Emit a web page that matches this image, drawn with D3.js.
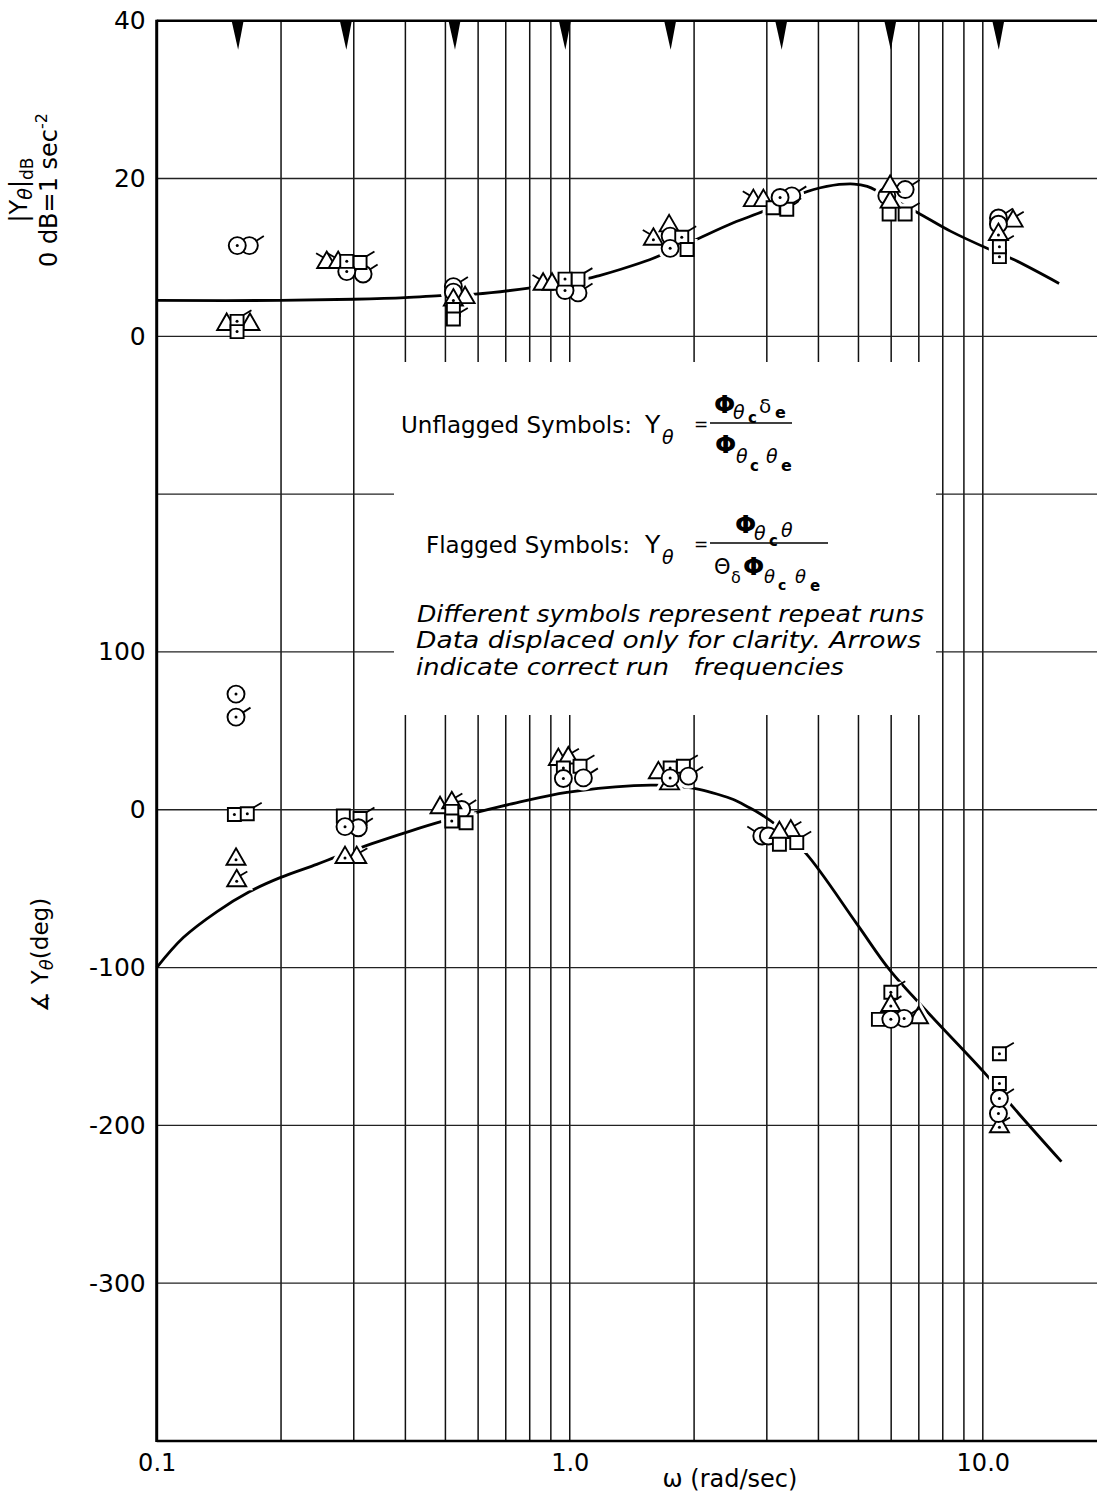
<!DOCTYPE html>
<html><head><meta charset="utf-8">
<script src="https://cdn.jsdelivr.net/npm/d3@7"></script>
<style>
html,body{margin:0;padding:0;background:#fff}
svg{display:block}
text{font-family:"DejaVu Sans",sans-serif;fill:#000}
</style>
</head><body>
<svg id="chart" width="1097" height="1493"></svg>
<script>
// ---------------- DATA ----------------
const xTicks = [0.1, 1, 10];
const xTickLabels = ["0.1", "1.0", "10.0"];
const magTicks = [40, 20, 0];
const phaseTicks = [100, 0, -100, -200, -300];
const magGrid = [40, 20, 0, -20, -40, -60, -80, -100, -120];
const freqGrid = [0.2,0.3,0.4,0.5,0.6,0.7,0.8,0.9,1,2,3,4,5,6,7,8,9,10];
const runFreqs = [0.157, 0.287, 0.526, 0.973, 1.75, 3.25, 5.97, 10.9];

const magCurveW  = [0.1, 0.199, 0.299, 0.399, 0.494, 0.590, 0.837, 1.10, 1.18, 1.33, 1.56, 1.68, 1.99, 2.49, 2.96, 3.60, 4.19, 4.88, 5.25, 5.65, 6.94, 8.37, 10.4, 11.8, 15.3];
const magCurveDb = [4.55, 4.55, 4.7, 4.9, 5.2, 5.35, 6.27, 7.3, 7.7, 8.5, 9.7, 10.4, 12.1, 14.4, 15.9, 18.0, 19.0, 19.3, 19.0, 18.2, 15.7, 13.3, 11.0, 9.8, 6.7];

const phaseCurveW   = [0.1, 0.116, 0.14, 0.168, 0.199, 0.244, 0.273, 0.332, 0.411, 0.495, 0.612, 0.742, 0.984, 1.43, 1.62, 1.90, 2.07, 2.27, 2.49, 2.70, 2.89, 3.17, 3.74, 4.96, 5.97, 7.52, 10.2, 11.8, 15.5];
const phaseCurveDeg = [-100, -81, -64.5, -51.8, -43, -34.6, -29.7, -21.5, -13.5, -7.1, -0.8, 4.4, 11, 15.3, 15.6, 14.3, 12.8, 10, 6.5, 1.8, -2.5, -10, -28, -72.5, -102, -131, -168, -188, -223];

// [plotted frequency, value, symbol (c circle / s square / t triangle), flag (0 none, 1 right, -1 left), centre dot]
const magPoints = [
  [0.1477, 1.5, 't', 1, 0], [0.1682, 1.5, 't', 0, 0], [0.1565, 1.9, 's', 1, 1], [0.1565, 0.6, 's', 0, 1],
  [0.1676, 11.5, 'c', 1, 0], [0.1567, 11.5, 'c', 0, 1],
  [0.258, 9.35, 't', -1, 0], [0.275, 9.35, 't', -1, 0], [0.316, 7.9, 'c', 1, 0], [0.3107, 9.35, 's', 1, 0],
  [0.2885, 8.2, 'c', 0, 1], [0.2885, 9.5, 's', 0, 1],
  [0.5227, 6.3, 'c', 1, 0], [0.5227, 5.6, 'c', 0, 0], [0.558, 4.9, 't', 0, 0], [0.5227, 4.6, 't', 0, 1],
  [0.5227, 3.4, 's', 0, 0], [0.5227, 2.2, 's', 1, 0],
  [0.862, 6.6, 't', -1, 0], [0.906, 6.6, 't', 0, 0], [1.047, 5.5, 'c', 1, 0], [0.974, 5.8, 'c', 0, 1],
  [1.047, 7.25, 's', 1, 0], [0.974, 7.25, 's', 0, 1],
  [1.594, 12.3, 't', -1, 1], [1.740, 14.0, 't', 0, 0], [1.750, 12.7, 'c', 0, 0], [1.867, 12.55, 's', 1, 1],
  [1.923, 11.0, 's', 0, 0], [1.750, 11.15, 'c', 0, 1],
  [2.783, 17.2, 't', -1, 0], [2.943, 17.2, 't', 0, 0], [3.448, 17.8, 'c', 1, 0], [3.107, 16.3, 's', 0, 0],
  [3.353, 16.1, 's', 1, 0], [3.230, 17.6, 'c', 0, 1],
  [5.932, 15.5, 's', 0, 0], [6.486, 15.5, 's', 1, 0], [6.486, 18.6, 'c', 1, 0], [5.856, 17.8, 'c', 0, 0],
  [5.965, 17.0, 't', 0, 0], [5.965, 19.0, 't', 0, 0],
  [10.97, 10.1, 's', 0, 1], [10.97, 11.35, 's', 1, 1], [11.84, 14.6, 't', 1, 0], [10.91, 15.0, 'c', 1, 0],
  [10.91, 14.2, 'c', 0, 0], [10.91, 12.9, 't', 0, 1]
];
const phasePoints = [
  [0.1556, 73.3, 'c', 0, 1], [0.1556, 58.7, 'c', 1, 1], [0.1542, -3.0, 's', 0, 1], [0.1657, -2.5, 's', 1, 1],
  [0.1556, -31.4, 't', 0, 1], [0.1562, -45, 't', 1, 1],
  [0.2830, -4.0, 's', 0, 0], [0.3107, -5.5, 's', 1, 0], [0.3077, -11.4, 'c', 1, 0], [0.2857, -10.7, 'c', 0, 1],
  [0.305, -30.3, 't', 1, 0], [0.2857, -30.3, 't', 0, 1],
  [0.4853, 1.3, 't', 0, 0], [0.5475, 0.2, 'c', 1, 0], [0.518, 4.4, 't', 1, 0], [0.561, -8.2, 's', 0, 0],
  [0.518, -1.0, 's', 0, 0], [0.518, -7.1, 's', 0, 1],
  [0.9385, 31.8, 't', 0, 0], [0.992, 32.8, 't', 1, 0], [1.059, 27.6, 's', 1, 0], [0.965, 26.5, 's', 0, 1],
  [1.079, 20.2, 'c', 1, 0], [0.965, 19.8, 'c', 0, 1],
  [1.744, 16.4, 't', 0, 0], [1.639, 23.4, 't', 0, 0], [1.884, 27.6, 's', 1, 0], [1.938, 21.3, 'c', 1, 0],
  [1.750, 26.5, 's', 0, 1], [1.750, 20.2, 'c', 0, 1],
  [2.917, -16.6, 'c', -1, 0], [3.026, -16.6, 'c', 0, 0], [3.428, -13.5, 't', 1, 0], [3.545, -20.8, 's', 1, 0],
  [3.218, -14.5, 't', 0, 0], [3.218, -21.9, 's', 0, 0],
  [5.989, -115.6, 's', 1, 1], [5.989, -124, 't', 1, 1], [6.987, -131.8, 't', 0, 0], [5.588, -132.8, 's', 0, 0],
  [6.450, -132.2, 'c', 1, 1], [5.989, -132.8, 'c', 0, 1],
  [10.97, -154.6, 's', 1, 1], [10.97, -173.5, 's', 0, 1], [10.97, -200.9, 't', 1, 1], [10.91, -192.5, 'c', 0, 1],
  [10.97, -183, 'c', 1, 1]
];

// ---------------- LAYOUT ----------------
const svg = d3.select("#chart");
const L = 156.7, R = 1097, T = 20.7, B = 1441;
const x = d3.scaleLog().domain([0.1, 18.9]).range([L, R]);
const yMag = d3.scaleLinear().domain([40, -140]).range([T, B]);
const yPh = d3.scaleLinear().domain([500, -400]).range([T, B]);

// gridlines
const grid = svg.append("g");
grid.selectAll("line.v").data(freqGrid).join("line")
  .attr("x1", d => x(d)).attr("x2", d => x(d)).attr("y1", T).attr("y2", B)
  .attr("stroke", "#111").attr("stroke-width", 1.5);
grid.selectAll("line.h").data(magGrid).join("line")
  .attr("x1", L).attr("x2", R).attr("y1", d => yMag(d)).attr("y2", d => yMag(d))
  .attr("stroke", "#222").attr("stroke-width", 1.3);

// legend panel (white box hiding the grid)
svg.append("rect").attr("x", 394).attr("y", 362).attr("width", 542).attr("height", 353).attr("fill", "#fff");

// frame
svg.append("line").attr("x1", L).attr("x2", L).attr("y1", T - 1).attr("y2", B + 1).attr("stroke", "#000").attr("stroke-width", 3);
svg.append("line").attr("x1", L).attr("x2", R).attr("y1", T).attr("y2", T).attr("stroke", "#000").attr("stroke-width", 2.5);
svg.append("line").attr("x1", L).attr("x2", R).attr("y1", B).attr("y2", B).attr("stroke", "#000").attr("stroke-width", 2.5);

// symbol generators
const symSize = {c: Math.PI * 8.5 * 8.5, s: 13 * 13, t: Math.sqrt(3) / 4 * 19 * 19};
const symType = {c: d3.symbolCircle, s: d3.symbolSquare, t: d3.symbolTriangle};
const symPath = k => d3.symbol().type(symType[k]).size(symSize[k])();
const flagGeom = {c: [6.7, -4.5, 14.5, -9.5], s: [6, -6, 14.4, -11], t: [3.3, -5, 10.6, -9.3]};

const allPts = magPoints.map(p => ({px: x(p[0]), py: yMag(p[1]), k: p[2], f: p[3], d: p[4]}))
  .concat(phasePoints.map(p => ({px: x(p[0]), py: yPh(p[1]), k: p[2], f: p[3], d: p[4]})));

// mask so the fitted curves break around the symbols
const defs = svg.append("defs");
const mask = defs.append("mask").attr("id", "gapmask").attr("maskUnits", "userSpaceOnUse")
  .attr("x", 0).attr("y", 0).attr("width", 1097).attr("height", 1493);
mask.append("rect").attr("x", 0).attr("y", 0).attr("width", 1097).attr("height", 1493).attr("fill", "#fff");
mask.selectAll("path").data(allPts).join("path")
  .attr("d", d => symPath(d.k)).attr("transform", d => `translate(${d.px},${d.py})`)
  .attr("fill", "#000").attr("stroke", "#000").attr("stroke-width", 8);

// curves
const magCurve = magCurveW.map((w, i) => [w, magCurveDb[i]]);
const phCurve = phaseCurveW.map((w, i) => [w, phaseCurveDeg[i]]);
const curves = svg.append("g").attr("mask", "url(#gapmask)");
curves.append("path").datum(magCurve)
  .attr("d", d3.line().x(d => x(d[0])).y(d => yMag(d[1])).curve(d3.curveCatmullRom.alpha(0.5)))
  .attr("fill", "none").attr("stroke", "#000").attr("stroke-width", 2.8);
curves.append("path").datum(phCurve)
  .attr("d", d3.line().x(d => x(d[0])).y(d => yPh(d[1])).curve(d3.curveCatmullRom.alpha(0.5)))
  .attr("fill", "none").attr("stroke", "#000").attr("stroke-width", 2.8);

// run-frequency arrows
svg.append("g").selectAll("path").data(runFreqs).join("path")
  .attr("d", d => `M${x(d) - 6},${T} L${x(d) + 6},${T} L${x(d) + 0.5},${T + 29} Z`)
  .attr("fill", "#000");

// data symbols
const sg = svg.append("g").selectAll("g").data(allPts).join("g")
  .attr("transform", d => `translate(${d.px},${d.py})`);
sg.append("path").attr("d", d => symPath(d.k)).attr("fill", "#fff").attr("stroke", "#000").attr("stroke-width", 1.9);
sg.filter(d => d.d).append("circle").attr("r", 1.5).attr("cy", d => d.k === 't' ? 0.5 : 0).attr("fill", "#000");
sg.filter(d => d.f !== 0).append("line")
  .attr("x1", d => d.f * flagGeom[d.k][0]).attr("y1", d => flagGeom[d.k][1])
  .attr("x2", d => d.f * flagGeom[d.k][2]).attr("y2", d => flagGeom[d.k][3])
  .attr("stroke", "#000").attr("stroke-width", 1.8);

// axes labels
const axMag = svg.append("g").attr("transform", `translate(${L},0)`)
  .call(d3.axisLeft(yMag).tickValues(magTicks).tickSize(0).tickPadding(11).tickFormat(d => String(d)));
const axPh = svg.append("g").attr("transform", `translate(${L},0)`)
  .call(d3.axisLeft(yPh).tickValues(phaseTicks).tickSize(0).tickPadding(11).tickFormat(d => String(d)));
const axX = svg.append("g").attr("transform", `translate(0,${B})`)
  .call(d3.axisBottom(x).tickValues(xTicks).tickSize(0).tickPadding(13).tickFormat((d, i) => xTickLabels[i]));
[axMag, axPh, axX].forEach(a => {
  a.select(".domain").remove();
  a.attr("font-size", 25).attr("font-family", '"DejaVu Sans",sans-serif');
  a.selectAll("text").attr("font-size", 25).attr("fill", "#000");
});
axX.selectAll("text").attr("font-size", 24);

function t(xp, yp, str, o = {}) {
  const el = svg.append("text").attr("x", xp).attr("y", yp).text(str)
    .attr("font-size", o.size || 24);
  if (o.italic) el.attr("font-style", "italic");
  if (o.bold) el.attr("font-weight", "bold");
  if (o.anchor) el.attr("text-anchor", o.anchor);
  if (o.len) el.attr("textLength", o.len).attr("lengthAdjust", "spacingAndGlyphs");
  if (o.pre) el.style("white-space", "pre");
  return el;
}

// x title
t(730, 1487, "ω (rad/sec)", {size: 24, anchor: "middle"});

// rotated y titles
const g1 = svg.append("text").attr("transform", "translate(27,190) rotate(-90)").attr("text-anchor", "middle").attr("font-size", 24);
g1.append("tspan").text("|Y");
g1.append("tspan").text("θ").attr("font-style", "italic").attr("font-size", 19).attr("dy", 5);
g1.append("tspan").text("|").attr("dy", -5);
g1.append("tspan").text("dB").attr("font-size", 17).attr("dy", 6);

const g2 = svg.append("text").attr("transform", "translate(57,190) rotate(-90)").attr("text-anchor", "middle").attr("font-size", 24);
g2.append("tspan").text("0 dB=1 sec");
g2.append("tspan").text("-2").attr("font-size", 16).attr("dy", -10);

const g3 = svg.append("text").attr("transform", "translate(48,955) rotate(-90)").attr("text-anchor", "middle").attr("font-size", 23);
g3.append("tspan").text("∡ Y");
g3.append("tspan").text("θ").attr("font-style", "italic").attr("font-size", 18).attr("dy", 5);
g3.append("tspan").text("(deg)").attr("dy", -5);

// legend: unflagged
t(401, 433, "Unflagged Symbols:", {size: 23, len: 231});
t(645, 433, "Y", {size: 25});
t(662, 444, "θ", {size: 19, italic: true});
t(694, 430, "=", {size: 17});
svg.append("line").attr("x1", 710).attr("x2", 792).attr("y1", 423).attr("y2", 423).attr("stroke", "#000").attr("stroke-width", 1.7);
t(714, 413, "Φ", {size: 25, bold: true});
t(733, 419, "θ", {size: 19, italic: true});
t(748, 423, "c", {size: 15, bold: true});
t(759, 413, "δ", {size: 20});
t(775, 418, "e", {size: 16, bold: true});
t(715, 453, "Φ", {size: 25, bold: true});
t(736, 463, "θ", {size: 19, italic: true});
t(750, 471, "c", {size: 15, bold: true});
t(766, 463, "θ", {size: 19, italic: true});
t(781, 471, "e", {size: 16, bold: true});

// legend: flagged
t(426, 553, "Flagged Symbols:", {size: 23, len: 204});
t(645, 553, "Y", {size: 25});
t(662, 564, "θ", {size: 19, italic: true});
t(694, 550, "=", {size: 17});
svg.append("line").attr("x1", 710).attr("x2", 828).attr("y1", 543).attr("y2", 543).attr("stroke", "#000").attr("stroke-width", 1.7);
t(735, 533, "Φ", {size: 25, bold: true});
t(754, 540, "θ", {size: 19, italic: true});
t(769, 546, "c", {size: 15, bold: true});
t(781, 537, "θ", {size: 19, italic: true});
t(714, 574, "Θ", {size: 21});
t(731, 583, "δ", {size: 16});
t(743, 575, "Φ", {size: 25, bold: true});
t(764, 583, "θ", {size: 18, italic: true});
t(778, 590, "c", {size: 14, bold: true});
t(795, 583, "θ", {size: 18, italic: true});
t(810, 591, "e", {size: 15, bold: true});

// legend: notes
t(417, 622, "Different symbols represent repeat runs", {size: 23, italic: true, len: 507});
t(416, 648, "Data displaced only for clarity. Arrows", {size: 23, italic: true, len: 505});
t(416, 675, "indicate correct run   frequencies", {size: 23, italic: true, len: 428, pre: true});
</script>
</body></html>
